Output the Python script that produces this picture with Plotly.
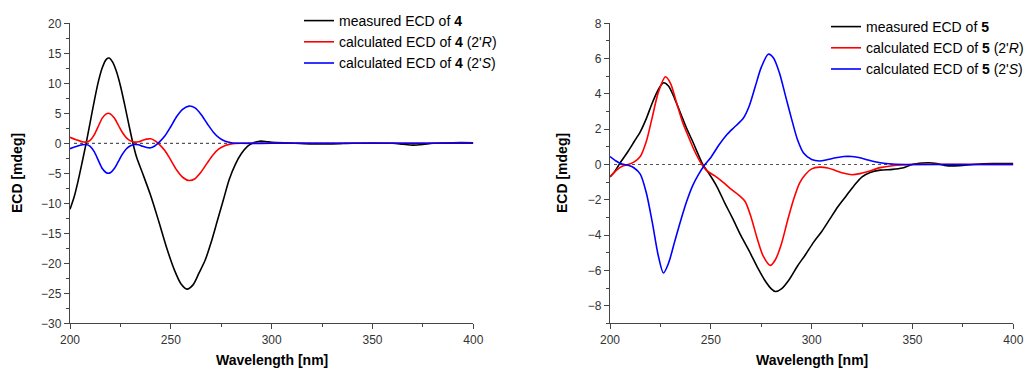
import plotly.graph_objects as go

# ---------- Left panel (compound 4) ----------
wl_4m = [200, 202, 204, 206, 208, 210, 212, 214, 216, 218, 219.5, 221, 223, 225, 227, 229, 231, 233, 236, 240,
         244, 248, 252, 255, 258, 261, 264, 267, 270, 273, 276, 279, 282, 285, 288, 291, 294, 297, 300, 310,
         320, 330, 340, 350, 360, 365, 370, 375, 380, 390, 400]
ecd_4m = [-11, -9, -6.3, -3.2, 0, 3.5, 7, 10.2, 12.6, 14, 14.2, 13.6, 12, 9.6, 6.6, 3.4, 0.3, -2.3, -5, -8.7,
          -13, -17.5, -21.3, -23.4, -24.3, -23.6, -21.6, -19.5, -16.5, -13, -9.5, -6, -3.5, -1.7, -0.5, 0.1, 0.35, 0.3, 0.15, 0.05,
          -0.1, -0.1, 0, 0.05, 0, -0.15, -0.3, -0.2, 0, 0.1, 0.1]

wl_4c = [200, 203, 206, 208, 210, 212, 214, 216, 218, 219, 220, 222, 224, 226, 228, 230, 232, 234, 236, 238,
         240, 242, 244, 247, 250, 253, 256, 259, 262, 265, 268, 271, 274, 277, 280, 285, 300, 350, 400]
ecd_4R = [1.0, 0.6, 0.25, 0.2, 0.5, 1.4, 2.8, 4.2, 4.9, 5.0, 4.9, 4.2, 3.0, 1.8, 0.9, 0.4, 0.2, 0.25, 0.5, 0.7,
          0.75, 0.45, -0.1, -1.2, -2.8, -4.5, -5.7, -6.2, -5.9, -4.8, -3.3, -1.9, -0.9, -0.35, -0.1, 0, 0, 0, 0]
ecd_4S = [-0.9, -0.55, -0.25, -0.2, -0.5, -1.4, -2.8, -4.2, -4.9, -5.0, -4.9, -4.2, -3.0, -1.8, -0.9, -0.4, -0.2, -0.25, -0.5, -0.7,
          -0.75, -0.45, 0.1, 1.2, 2.8, 4.5, 5.7, 6.2, 5.9, 4.8, 3.3, 1.9, 0.9, 0.35, 0.1, 0, 0, 0, 0]

# ---------- Right panel (compound 5) ----------
wl_5m = [200, 202, 204, 206, 209, 212, 215, 218, 221, 224, 226.5, 229, 232, 235, 238, 241, 244, 246, 249, 253,
         257, 261, 265, 269, 273, 277, 280, 282, 285, 289, 293, 297, 301, 305, 309, 313, 317, 321, 325, 329,
         334, 340, 345, 350, 355, 358, 362, 366, 370, 375, 380, 390, 400]
ecd_5m = [-0.7, -0.45, -0.1, 0.25, 0.75, 1.3, 1.85, 2.6, 3.5, 4.25, 4.63, 4.45, 3.75, 2.9, 2.05, 1.3, 0.5, 0, -0.5, -1.25,
          -2.2, -3.1, -4.05, -4.9, -5.8, -6.6, -7.05, -7.2, -7.05, -6.5, -5.75, -5.1, -4.4, -3.8, -3.1, -2.4, -1.8, -1.2, -0.7, -0.45,
          -0.32, -0.28, -0.2, 0, 0.08, 0.1, 0.05, -0.05, -0.08, -0.05, 0, 0.05, 0.05]

wl_5R = [200, 203, 206, 209, 212, 215, 218, 221, 224, 227.5, 230, 233, 236, 239, 242, 245, 248, 252, 256, 260,
         264, 267, 270, 273, 276, 279.5, 282, 285, 288, 291, 294, 297, 300, 304, 308, 312, 316, 320, 324, 328,
         334, 340, 350, 400]
ecd_5R = [-0.7, -0.35, -0.1, 0, 0.15, 0.45, 1.3, 2.7, 4.1, 4.97, 4.6, 3.5, 2.4, 1.55, 0.75, 0.1, -0.35, -0.65, -1.0, -1.4,
          -1.75, -2.1, -3.0, -4.2, -5.2, -5.72, -5.4, -4.5, -3.2, -2.0, -1.05, -0.55, -0.25, -0.15, -0.2, -0.35, -0.5, -0.58, -0.52, -0.4,
          -0.18, -0.07, 0, 0]

wl_5S = [200, 203, 206, 209, 212, 215, 218, 221, 224, 226.5, 229, 232, 235, 238, 241, 244, 247, 250, 254, 258,
         262, 266, 269, 272, 275, 278.5, 281, 284, 287, 290, 293, 296, 300, 304, 308, 312, 316, 320, 324, 328,
         334, 340, 350, 400]
ecd_5S = [0.45, 0.2, 0.02, -0.05, -0.2, -0.55, -1.6, -3.3, -5.2, -6.15, -5.6, -4.4, -3.2, -2.1, -1.2, -0.55, -0.02, 0.4, 1.1, 1.7,
          2.15, 2.6, 3.3, 4.4, 5.5, 6.25, 6.05, 5.2, 3.9, 2.6, 1.4, 0.65, 0.28, 0.2, 0.28, 0.38, 0.45, 0.45, 0.38, 0.25,
          0.1, 0.03, 0, 0]

names_4 = ["measured ECD of <b>4</b>",
           "calculated ECD of <b>4</b> (2'<i>R</i>)",
           "calculated ECD of <b>4</b> (2'<i>S</i>)"]
names_5 = ["measured ECD of <b>5</b>",
           "calculated ECD of <b>5</b> (2'<i>R</i>)",
           "calculated ECD of <b>5</b> (2'<i>S</i>)"]
colors = ["#000000", "#ff0000", "#0000ff"]

fig = go.Figure()

def add(x, y, name, color, xa, ya, legend):
    fig.add_trace(go.Scatter(x=x, y=y, name=name, mode="lines",
                             line=dict(color=color, width=1.6, shape="spline", smoothing=0.8),
                             xaxis=xa, yaxis=ya, legend=legend))

add(wl_4m, ecd_4m, names_4[0], colors[0], "x", "y", "legend")
add(wl_4c, ecd_4R, names_4[1], colors[1], "x", "y", "legend")
add(wl_4c, ecd_4S, names_4[2], colors[2], "x", "y", "legend")
add(wl_5m, ecd_5m, names_5[0], colors[0], "x2", "y2", "legend2")
add(wl_5R, ecd_5R, names_5[1], colors[1], "x2", "y2", "legend2")
add(wl_5S, ecd_5S, names_5[2], colors[2], "x2", "y2", "legend2")

W, H = 1024, 369
ydom = [(H - 323.3) / H, (H - 23.3) / H]
tickfont = dict(family="Liberation Sans, Arial, sans-serif", size=12, color="#333333")
axis_common = dict(showline=True, linecolor="#444444", linewidth=1.3, ticks="outside",
                   ticklen=5, tickwidth=1.2, tickcolor="#444444", showgrid=False,
                   zeroline=False, tickfont=tickfont, automargin=False)
legfont = dict(family="Liberation Sans, Arial, sans-serif", size=14, color="#000000")

fig.update_layout(
    width=W, height=H,
    margin=dict(l=0, r=0, t=0, b=0, pad=0, autoexpand=False),
    paper_bgcolor="white", plot_bgcolor="white",
    xaxis=dict(domain=[70 / W, 473.3 / W], range=[200, 400], dtick=50, anchor="y",
               minor=dict(dtick=25, ticklen=3, ticks="outside", tickcolor="#444444"), **axis_common),
    yaxis=dict(domain=ydom, range=[-30, 20], dtick=5, anchor="x",
               minor=dict(dtick=2.5, ticklen=3, ticks="outside", tickcolor="#444444"), **axis_common),
    xaxis2=dict(domain=[610 / W, 1013.3 / W], range=[200, 400], dtick=50, anchor="y2",
                minor=dict(dtick=25, ticklen=3, ticks="outside", tickcolor="#444444"), **axis_common),
    yaxis2=dict(domain=ydom, range=[-9, 8], dtick=2, tick0=0, anchor="x2",
                minor=dict(dtick=1, ticklen=3, ticks="outside", tickcolor="#444444"), **axis_common),
    legend=dict(x=299 / W, y=(H - 5) / H, xanchor="left", yanchor="top",
                bgcolor="rgba(0,0,0,0)", tracegroupgap=0, font=legfont),
    legend2=dict(x=826 / W, y=(H - 11) / H, xanchor="left", yanchor="top",
                 bgcolor="rgba(0,0,0,0)", tracegroupgap=0, font=legfont),
    showlegend=True,
)

# dotted zero lines
for xr, yr in [("x", "y"), ("x2", "y2")]:
    fig.add_shape(type="line", xref=xr, yref=yr, x0=202, x1=400, y0=0, y1=0,
                  line=dict(color="#555555", width=1.2, dash="dot"), layer="below")

titlefont = dict(family="Liberation Sans, Arial, sans-serif", size=14, color="#000000")
fig.add_annotation(text="<b>Wavelength [nm]</b>", xref="paper", yref="paper",
                   x=(70 + 473.3) / 2 / W, y=(H - 360) / H, showarrow=False, font=titlefont,
                   xanchor="center", yanchor="middle")
fig.add_annotation(text="<b>Wavelength [nm]</b>", xref="paper", yref="paper",
                   x=(610 + 1013.3) / 2 / W, y=(H - 360) / H, showarrow=False, font=titlefont,
                   xanchor="center", yanchor="middle")
fig.add_annotation(text="<b>ECD [mdeg]</b>", xref="paper", yref="paper",
                   x=17 / W, y=(H - 173) / H, showarrow=False, font=titlefont, textangle=-90,
                   xanchor="center", yanchor="middle")
fig.add_annotation(text="<b>ECD [mdeg]</b>", xref="paper", yref="paper",
                   x=562 / W, y=(H - 173) / H, showarrow=False, font=titlefont, textangle=-90,
                   xanchor="center", yanchor="middle")

fig.write_html("out.html", config={"displayModeBar": False},
               post_script="document.body.style.margin='0';document.body.style.overflow='hidden';")
